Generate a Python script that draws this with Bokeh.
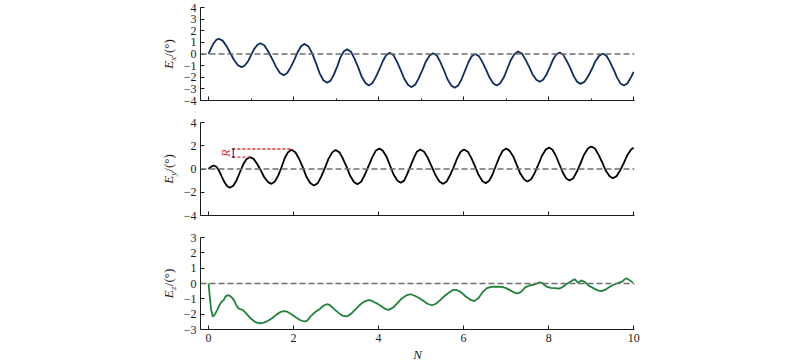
from bokeh.plotting import figure
from bokeh.layouts import column, row
from bokeh.models import Span, Label, FixedTicker, Range1d
from bokeh.core.properties import value
from bokeh.embed import file_html
from bokeh.resources import INLINE

# ---------------- data ----------------
NX = [0.0, 0.06, 0.12, 0.18, 0.24,
      0.33, 0.42, 0.51, 0.60, 0.69, 0.78,
      0.85, 0.93, 1.00, 1.07, 1.15, 1.22,
      1.31, 1.40, 1.50, 1.59, 1.68, 1.77,
      1.85, 1.93, 2.02, 2.10, 2.18, 2.26,
      2.35, 2.44, 2.53, 2.61, 2.70, 2.79,
      2.87, 2.95, 3.03, 3.10, 3.18, 3.26,
      3.35, 3.43, 3.52, 3.60, 3.69, 3.77,
      3.85, 3.93, 4.02, 4.10, 4.18, 4.26,
      4.35, 4.43, 4.52, 4.60, 4.69, 4.77,
      4.86, 4.94, 5.03, 5.11, 5.20, 5.28,
      5.37, 5.45, 5.54, 5.62, 5.71, 5.79,
      5.87, 5.95, 6.03, 6.11, 6.19, 6.27,
      6.36, 6.44, 6.53, 6.61, 6.70, 6.78,
      6.86, 6.95, 7.03, 7.11, 7.20, 7.28,
      7.37, 7.45, 7.54, 7.62, 7.71, 7.79,
      7.87, 7.95, 8.03, 8.10, 8.18, 8.26,
      8.34, 8.42, 8.51, 8.59, 8.67, 8.75,
      8.84, 8.93, 9.02, 9.10, 9.19, 9.28,
      9.36, 9.44, 9.53, 9.61, 9.69, 9.77,
      9.85, 9.93, 10.0]

EX = [0.0, 0.5, 0.93, 1.21, 1.31,
      1.15, 0.70, 0.09, -0.52, -0.97, -1.13,
      -0.99, -0.62, -0.10, 0.42, 0.79, 0.93,
      0.75, 0.24, -0.45, -1.13, -1.64, -1.82,
      -1.64, -1.15, -0.48, 0.20, 0.69, 0.87,
      0.65, 0.03, -0.81, -1.64, -2.26, -2.48,
      -2.29, -1.76, -1.04, -0.31, 0.22, 0.41,
      0.20, -0.37, -1.15, -1.93, -2.50, -2.71,
      -2.52, -2.01, -1.31, -0.60, -0.09, 0.10,
      -0.10, -0.64, -1.38, -2.11, -2.65, -2.85,
      -2.65, -2.12, -1.39, -0.66, -0.13, 0.07,
      -0.13, -0.68, -1.42, -2.17, -2.71, -2.91,
      -2.72, -2.18, -1.46, -0.73, -0.19, 0.00,
      -0.18, -0.68, -1.36, -2.03, -2.53, -2.71,
      -2.51, -1.98, -1.25, -0.52, 0.01, 0.21,
      0.04, -0.44, -1.09, -1.74, -2.22, -2.39,
      -2.22, -1.76, -1.13, -0.50, -0.04, 0.13,
      -0.05, -0.55, -1.22, -1.90, -2.39, -2.57,
      -2.40, -1.92, -1.27, -0.62, -0.14, 0.03,
      -0.15, -0.66, -1.34, -2.03, -2.53, -2.71,
      -2.53, -2.05, -1.55]

NY = [0.0, 0.04, 0.08, 0.125,
      0.19, 0.25, 0.31, 0.375, 0.44, 0.50,
      0.58, 0.66, 0.735, 0.81, 0.89, 0.97,
      1.06, 1.14, 1.23, 1.31, 1.40, 1.48,
      1.56, 1.64, 1.72, 1.79, 1.87, 1.95,
      2.04, 2.13, 2.22, 2.30, 2.39, 2.48,
      2.57, 2.65, 2.74, 2.82, 2.91, 2.99,
      3.08, 3.16, 3.25, 3.33, 3.42, 3.50,
      3.59, 3.67, 3.76, 3.85, 3.93, 4.02,
      4.10, 4.19, 4.27, 4.35, 4.44, 4.52,
      4.60, 4.67, 4.75, 4.83, 4.90, 4.98,
      5.07, 5.16, 5.25, 5.34, 5.43, 5.52,
      5.60, 5.68, 5.77, 5.85, 5.93, 6.01,
      6.10, 6.18, 6.27, 6.35, 6.44, 6.52,
      6.60, 6.68, 6.76, 6.84, 6.92, 7.00,
      7.08, 7.17, 7.25, 7.33, 7.42, 7.50,
      7.59, 7.67, 7.76, 7.84, 7.93, 8.01,
      8.09, 8.17, 8.25, 8.33, 8.41, 8.49,
      8.58, 8.66, 8.75, 8.83, 8.92, 9.00,
      9.09, 9.17, 9.26, 9.34, 9.43, 9.51,
      9.60, 9.68, 9.77, 9.85, 9.94, 10.0]

EY = [0.0, 0.14, 0.23, 0.30,
      0.17, -0.18, -0.66, -1.14, -1.49, -1.62,
      -1.44, -0.96, -0.30, 0.36, 0.84, 1.02,
      0.87, 0.45, -0.13, -0.71, -1.13, -1.28,
      -1.08, -0.55, 0.19, 0.92, 1.45, 1.65,
      1.44, 0.88, 0.12, -0.65, -1.21, -1.42,
      -1.22, -0.66, 0.11, 0.87, 1.43, 1.63,
      1.43, 0.90, 0.16, -0.58, -1.11, -1.31,
      -1.10, -0.54, 0.23, 1.00, 1.56, 1.77,
      1.57, 1.03, 0.29, -0.45, -0.99, -1.19,
      -1.00, -0.47, 0.25, 0.96, 1.49, 1.68,
      1.48, 0.94, 0.20, -0.54, -1.08, -1.28,
      -1.08, -0.54, 0.20, 0.94, 1.48, 1.68,
      1.49, 0.96, 0.23, -0.50, -1.03, -1.22,
      -1.02, -0.47, 0.28, 1.02, 1.57, 1.77,
      1.58, 1.06, 0.35, -0.37, -0.89, -1.08,
      -0.88, -0.35, 0.39, 1.12, 1.65, 1.85,
      1.66, 1.14, 0.43, -0.28, -0.80, -0.99,
      -0.79, -0.26, 0.48, 1.21, 1.74, 1.94,
      1.76, 1.26, 0.58, -0.11, -0.61, -0.79,
      -0.61, -0.13, 0.53, 1.19, 1.67, 1.82]

NZ = [0.0, 0.03, 0.06, 0.10, 0.14, 0.20, 0.25, 0.30, 0.35, 0.40,
      0.45, 0.50, 0.55, 0.60, 0.65, 0.70, 0.75, 0.80, 0.85, 0.90,
      1.00, 1.10, 1.20, 1.30, 1.40, 1.50, 1.60, 1.70, 1.78, 1.85,
      1.95, 2.05, 2.15, 2.25, 2.32, 2.40, 2.50, 2.60, 2.70, 2.78,
      2.85, 2.95, 3.05, 3.15, 3.25, 3.35, 3.45, 3.55, 3.65, 3.75,
      3.82, 3.90, 3.96, 4.05, 4.15, 4.24, 4.35, 4.45, 4.55, 4.65,
      4.75, 4.85, 4.95, 5.05, 5.15, 5.25, 5.35, 5.45, 5.55, 5.65,
      5.75, 5.82, 5.90, 5.95, 6.05, 6.15, 6.25, 6.35, 6.45, 6.55,
      6.65, 6.78, 6.90, 7.00, 7.10, 7.20, 7.27, 7.35, 7.45, 7.55,
      7.65, 7.72, 7.79, 7.85, 7.95, 8.05, 8.15, 8.24, 8.32, 8.40,
      8.48, 8.56, 8.62, 8.69, 8.77, 8.85, 8.95, 9.05, 9.15, 9.24,
      9.35, 9.45, 9.55, 9.65, 9.72, 9.78, 9.83, 9.90, 9.98]

EZ = [0.0, -0.9, -1.7, -2.15, -2.05, -1.75, -1.45, -1.2, -1.1, -0.85,
      -0.76, -0.8, -0.92, -1.1, -1.4, -1.62, -1.68, -1.72, -1.85, -2.0,
      -2.3, -2.52, -2.6, -2.55, -2.43, -2.25, -2.03, -1.85, -1.8, -1.84,
      -2.0, -2.2, -2.38, -2.48, -2.42, -2.15, -1.88, -1.7, -1.45, -1.35,
      -1.4, -1.65, -1.9, -2.1, -2.15, -1.98, -1.7, -1.42, -1.2, -1.09,
      -1.1, -1.22, -1.3, -1.45, -1.65, -1.72, -1.55, -1.25, -0.97, -0.78,
      -0.7, -0.8, -0.95, -1.12, -1.32, -1.42, -1.32, -1.08, -0.82, -0.6,
      -0.42, -0.41, -0.5, -0.6, -0.85, -1.05, -1.15, -0.95, -0.55, -0.3,
      -0.22, -0.2, -0.22, -0.3, -0.45, -0.6, -0.65, -0.55, -0.25, -0.13,
      -0.08, 0.0, 0.07, 0.02, -0.2, -0.28, -0.3, -0.33, -0.25, -0.08,
      0.06, 0.2, 0.28, 0.04, 0.2, 0.1, -0.15, -0.3, -0.45, -0.5,
      -0.38, -0.2, -0.05, 0.05, 0.1, 0.25, 0.35, 0.22, 0.07]

X_MAJOR = [0, 2, 4, 6, 8, 10]
X_MINOR = [1, 3, 5, 7, 9]
YT_X = [-4, -3, -2, -1, 0, 1, 2, 3, 4]
YT_Y = [-4, -2, 0, 2, 4]
YT_Z = [-3, -2, -1, 0, 1, 2, 3]
SUBS = ["x", "y", "z"]

# ---------------- styling ----------------
FONT = "Liberation Serif"
INK = "#1a1a1a"
RED = "#e8302e"
LEFT_W = 180


def tick_text(v):
    return ("\u2212%d" % -v) if v < 0 else "%d" % v


def make_panel(height, b_top, b_bottom, y_lo, y_hi, yticks, minor_x, show_x):
    p = figure(width=800 - LEFT_W, height=height, output_backend="svg", toolbar_location=None,
               x_range=Range1d(-0.19, 10.02), y_range=Range1d(y_lo, y_hi),
               min_border_left=20, min_border_right=166,
               min_border_top=b_top, min_border_bottom=b_bottom)
    p.outline_line_color = None
    p.xgrid.visible = False
    p.ygrid.visible = False
    for ax in (p.xaxis[0], p.yaxis[0]):
        ax.axis_line_color = INK
        ax.axis_line_width = 1
        ax.major_tick_line_color = INK
        ax.minor_tick_line_color = INK
        ax.major_tick_in = 4
        ax.major_tick_out = 0
        ax.minor_tick_in = 2
        ax.minor_tick_out = 0
        ax.major_label_text_font = FONT
        ax.major_label_text_font_size = "12px"
        ax.major_label_text_color = INK
        ax.major_label_standoff = 4
    p.xaxis.ticker = FixedTicker(ticks=X_MAJOR, minor_ticks=X_MINOR if minor_x else [])
    if not show_x:
        p.xaxis.major_label_overrides = {t: "" for t in X_MAJOR}
        p.xaxis.major_label_standoff = 0
    p.yaxis.ticker = FixedTicker(ticks=yticks, minor_ticks=[])
    p.yaxis.major_label_overrides = {t: tick_text(t) for t in yticks}
    p.add_layout(Span(location=0, dimension="width", line_color="#6e6e6e",
                      line_dash="6 3", line_width=1.4))
    return p


# top panel: E_x
p1 = make_panel(111, 7, 11, -4, 4, YT_X, True, False)
p1.line(NX, EX, line_color="#0f2c5a", line_width=1.8)

# middle panel: E_y
p2 = make_panel(115, 11, 11, -4, 4, YT_Y, False, False)
p2.line(NY, EY, line_color="#000000", line_width=1.8)
p2.line([0.56, 1.96], [1.72, 1.72], line_color=RED, line_dash="3 2", line_width=1.3)
p2.line([0.56, 0.97], [1.02, 1.02], line_color=RED, line_dash="3 2", line_width=1.3)
p2.segment(x0=[0.58, 0.545, 0.545], y0=[1.02, 1.02, 1.72],
           x1=[0.58, 0.615, 0.615], y1=[1.72, 1.02, 1.72],
           line_color="#222222", line_width=1)
p2.add_layout(Label(x=0.4, y=1.37, text="R", angle=90, angle_units="deg",
                    text_font=FONT, text_font_style="italic", text_font_size="12px",
                    text_color=RED, text_align="center", text_baseline="middle"))

# bottom panel: E_z
p3 = make_panel(138, 11, 35, -3, 3, YT_Z, False, True)
p3.line(NZ, EZ, line_color="#23803a", line_width=1.8)
p3.xaxis.axis_label = "N"
p3.xaxis.axis_label_text_font = FONT
p3.xaxis.axis_label_text_font_style = "italic"
p3.xaxis.axis_label_text_font_size = "13px"
p3.xaxis.axis_label_text_color = INK
p3.xaxis.axis_label_standoff = 2

# left strip holding the composite y-axis titles  E_x/(°), E_y/(°), E_z/(°)
lab = figure(width=LEFT_W, height=364, output_backend="svg", toolbar_location=None,
             x_range=Range1d(0, LEFT_W), y_range=Range1d(0, 364),
             x_axis_type=None, y_axis_type=None,
             min_border_left=0, min_border_right=0, min_border_top=0, min_border_bottom=0)
lab.outline_line_color = None
lab.xgrid.visible = False
lab.ygrid.visible = False
centers = [53.5, 168.5, 283.0]   # vertical centres of the three panels (page pixels)
common = dict(angle=1.5708, text_font=value(FONT), text_color=INK,
              text_align="center", text_baseline="middle")
lab.text(x=[167.5] * 3, y=[364 - (c + 10.8) for c in centers], text=["E"] * 3,
         text_font_style=value("italic"), text_font_size=value("13px"), **common)
lab.text(x=[172.0] * 3, y=[364 - (c + 4.8) for c in centers], text=SUBS,
         text_font_style=value("italic"), text_font_size=value("9px"), **common)
lab.text(x=[168.0] * 3, y=[364 - (c - 6.0) for c in centers], text=["/(\u00b0)"] * 3,
         text_font_style=value("normal"), text_font_size=value("13px"), **common)

layout = row(lab, column(p1, p2, p3, spacing=0), spacing=0)
open("out.html", "w").write(file_html(layout, INLINE))
